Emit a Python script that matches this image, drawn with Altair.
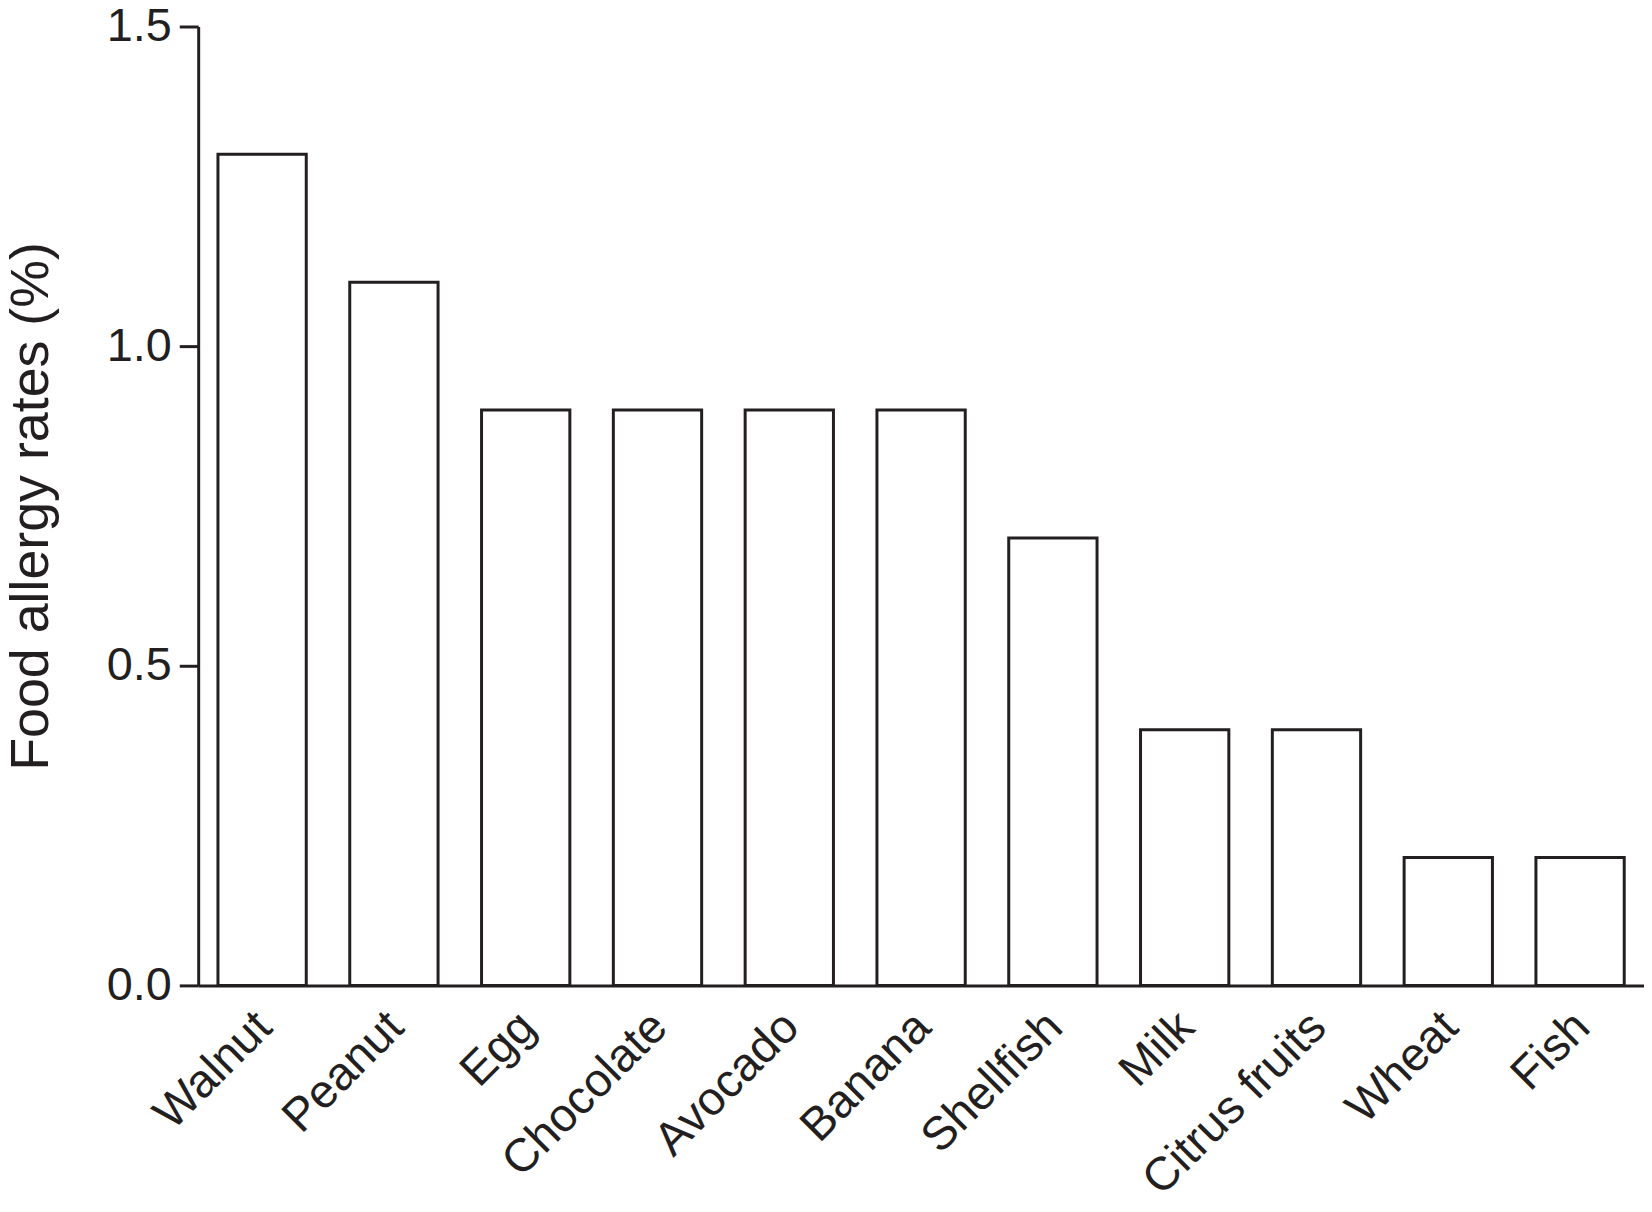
import altair as alt
import pandas as pd

foods = ["Walnut", "Peanut", "Egg", "Chocolate", "Avocado", "Banana",
         "Shellfish", "Milk", "Citrus fruits", "Wheat", "Fish"]
rates = [1.3, 1.1, 0.9, 0.9, 0.9, 0.9, 0.7, 0.4, 0.4, 0.2, 0.2]

df = pd.DataFrame({"food": foods, "rate": rates})

INK = "#231f20"
FONT = "Liberation Sans"

chart = alt.Chart(df).mark_bar(
    fill="white", stroke=INK, strokeWidth=3
).encode(
    x=alt.X("food:N", sort=foods,
            scale=alt.Scale(paddingInner=0.33, paddingOuter=0.15),
            axis=alt.Axis(title=None, labelAngle=-45, labelFontSize=47,
                          labelFont=FONT, labelColor=INK, ticks=False,
                          labelLimit=600, labelOffset=-14, grid=False,
                          labelPadding=18, domainColor=INK, domainWidth=3)),
    y=alt.Y("rate:Q", scale=alt.Scale(domain=[0, 1.5], nice=False),
            axis=alt.Axis(title="Food allergy rates (%)", values=[0, 0.5, 1.0, 1.5],
                          format=".1f", grid=False, labelFontSize=47,
                          labelFont=FONT, labelColor=INK, tickSize=19,
                          tickWidth=3, tickColor=INK, labelPadding=8,
                          domainColor=INK, domainWidth=3,
                          titleFont=FONT, titleFontSize=54, titleFontWeight="normal",
                          titleColor=INK, titlePadding=48)),
).properties(
    width=1452, height=963,
    background="white",
    autosize=alt.AutoSizeParams(type="none"),
    padding={"left": 191, "top": 16, "right": 0, "bottom": 230},
).configure_view(
    stroke="white", strokeWidth=0, strokeOpacity=0
).configure_axis(
    grid=False, gridColor="white", gridOpacity=0
)

chart.save("out.html", embed_options={"renderer": "svg", "actions": False})
